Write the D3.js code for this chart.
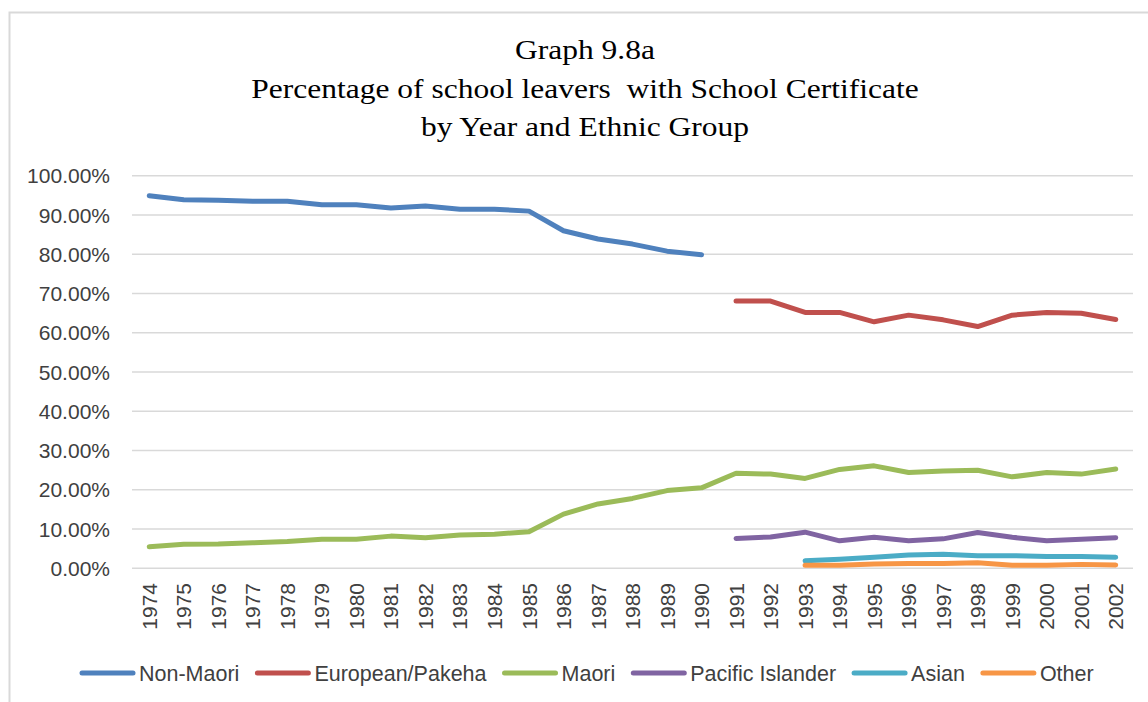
<!DOCTYPE html>
<html><head><meta charset="utf-8">
<script src="https://cdn.jsdelivr.net/npm/d3@7"></script>
<style>body{margin:0;background:#fff;} svg{display:block;}</style>
</head><body>
<svg id="chart" width="1148" height="702"></svg>
<script>
const years = ["1974","1975","1976","1977","1978","1979","1980","1981","1982","1983","1984","1985","1986","1987","1988","1989","1990","1991","1992","1993","1994","1995","1996","1997","1998","1999","2000","2001","2002"];
const seriesNames = ["Non-Maori","European/Pakeha","Maori","Pacific Islander","Asian","Other"];
const seriesColors = ["#4F81BD","#C0504D","#9BBB59","#8064A2","#4BACC6","#F79646"];
const nonMaori = [94.9,93.9,93.8,93.5,93.5,92.6,92.6,91.8,92.3,91.5,91.5,91.0,86.0,83.9,82.6,80.8,79.9,null,null,null,null,null,null,null,null,null,null,null,null];
const europeanPakeha = [null,null,null,null,null,null,null,null,null,null,null,null,null,null,null,null,null,68.1,68.1,65.2,65.2,62.8,64.5,63.3,61.6,64.5,65.2,65.0,63.4];
const maori = [5.5,6.1,6.2,6.5,6.8,7.4,7.4,8.2,7.8,8.5,8.7,9.3,13.8,16.4,17.8,19.8,20.5,24.2,24.0,22.9,25.2,26.1,24.4,24.8,25.0,23.3,24.4,24.0,25.3];
const pacificIslander = [null,null,null,null,null,null,null,null,null,null,null,null,null,null,null,null,null,7.6,8.0,9.2,7.0,7.9,7.0,7.5,9.1,7.9,7.0,7.4,7.8];
const asian = [null,null,null,null,null,null,null,null,null,null,null,null,null,null,null,null,null,null,null,1.9,2.3,2.8,3.4,3.6,3.2,3.2,3.0,3.0,2.8];
const other = [null,null,null,null,null,null,null,null,null,null,null,null,null,null,null,null,null,null,null,0.8,0.8,1.1,1.2,1.2,1.4,0.8,0.8,1.0,0.85];
const yTicks = [0,10,20,30,40,50,60,70,80,90,100];
const titleLines = ["Graph 9.8a","Percentage of school leavers  with School Certificate","by Year and Ethnic Group"];

const seriesValues = [nonMaori, europeanPakeha, maori, pacificIslander, asian, other];

const svg = d3.select("#chart");
const axisFont = "'Liberation Sans', Arial, sans-serif";

// chart frame
svg.append("rect").attr("x",9.5).attr("y",12.5).attr("width",1200).attr("height",720)
  .attr("fill","#fff").attr("stroke","#d9d9d9").attr("stroke-width",2);

// title
const title = svg.append("text").attr("text-anchor","middle")
  .attr("transform","translate(585,0) scale(1.125,1)")
  .attr("font-family","'Liberation Serif','Times New Roman',serif")
  .attr("font-size",28).attr("fill","#000");
const titleBase = [59, 98, 136];
titleLines.forEach((t,i)=>{
  title.append("tspan").attr("x",0).attr("y",titleBase[i]).attr("xml:space","preserve").text(t);
});

const x = d3.scaleBand().domain(years).range([132,1133]);
const y = d3.scaleLinear().domain([0,100]).range([568.3,175.8]);

// gridlines
svg.append("g").selectAll("line").data(yTicks).join("line")
  .attr("x1",132).attr("x2",1133)
  .attr("y1",d=>y(d)).attr("y2",d=>y(d))
  .attr("stroke","#d9d9d9").attr("stroke-width",1.6);

// y axis labels
svg.append("g").selectAll("text").data(yTicks).join("text")
  .attr("x",110).attr("y",d=>y(d)).attr("dy","0.36em")
  .attr("text-anchor","end").attr("font-family",axisFont).attr("font-size",21)
  .attr("fill","#404040").text(d=>d.toFixed(2)+"%");

// x axis labels
svg.append("g").selectAll("text").data(years).join("text")
  .attr("transform",d=>`translate(${x(d)+x.bandwidth()/2},583) rotate(-90)`)
  .attr("dy","0.36em").attr("text-anchor","end")
  .attr("font-family",axisFont).attr("font-size",21)
  .attr("fill","#404040").text(d=>d);

// lines
const line = d3.line()
  .defined(d=>d.v!==null)
  .x(d=>x(d.year)+x.bandwidth()/2)
  .y(d=>y(d.v));
svg.append("g").selectAll("path").data(seriesValues).join("path")
  .attr("d",vals=>line(vals.map((v,i)=>({year:years[i],v}))))
  .attr("fill","none")
  .attr("stroke",(d,i)=>seriesColors[i])
  .attr("stroke-width",5)
  .attr("stroke-linecap","round").attr("stroke-linejoin","round");

// legend
const legend = svg.append("g");
let lx = 80;
const ly = 673;
seriesNames.forEach((name,i)=>{
  legend.append("line").attr("x1",lx+2).attr("x2",lx+53).attr("y1",ly).attr("y2",ly)
    .attr("stroke",seriesColors[i]).attr("stroke-width",5).attr("stroke-linecap","round");
  const t = legend.append("text").attr("x",lx+59).attr("y",ly).attr("dy","0.36em")
    .attr("font-family",axisFont).attr("font-size",21.5).attr("fill","#404040").text(name);
  lx = lx + 59 + t.node().getComputedTextLength() + 16;
});
</script>
</body></html>
